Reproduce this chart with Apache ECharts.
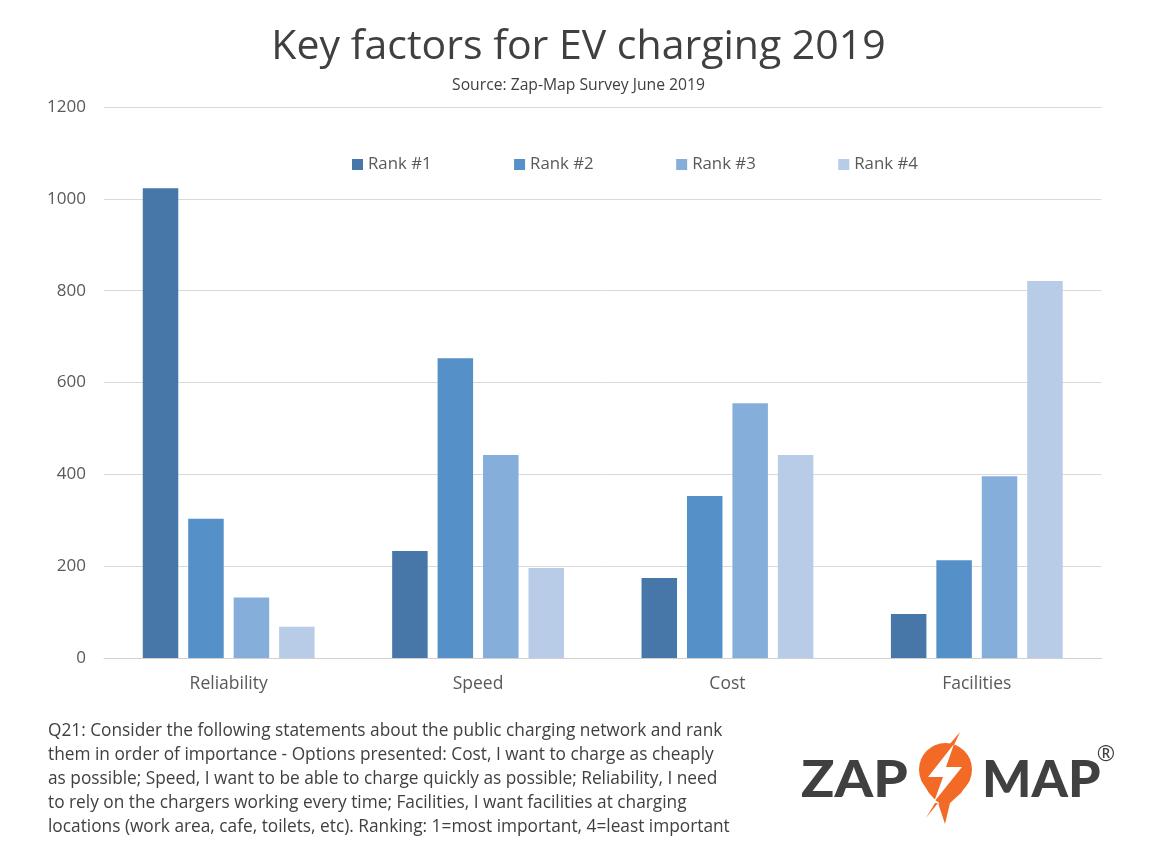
<!DOCTYPE html>
<html>
<head>
<meta charset="utf-8">
<style>
html,body{margin:0;padding:0;background:#fff}
#chart{width:1158px;height:856px}
</style>
<script src="https://cdn.jsdelivr.net/npm/echarts@6/dist/echarts.min.js"></script>
</head>
<body>
<div id="chart"></div>
<script>
var categories = ['Reliability', 'Speed', 'Cost', 'Facilities'];
var rank1 = [1023, 233, 174, 96];
var rank2 = [303, 653, 353, 213];
var rank3 = [132, 442, 555, 396];
var rank4 = [68, 196, 442, 821];
var seriesNames = ['Rank #1', 'Rank #2', 'Rank #3', 'Rank #4'];
var seriesColors = ['#4677a8', '#5591c8', '#85aedb', '#b8cce8'];
var footnote = [
    'Q21: Consider the following statements about the public charging network and rank',
    'them in order of importance - Options presented: Cost, I want to charge as cheaply',
    'as possible; Speed, I want to be able to charge quickly as possible; Reliability, I need',
    'to rely on the chargers working every time; Facilities, I want facilities at charging',
    'locations (work area, cafe, toilets, etc). Ranking: 1=most important, 4=least important'
];

var fontName = '"Open Sans", "Noto Sans", sans-serif';
var myChart = echarts.init(document.getElementById('chart'), null, {renderer: 'canvas'});

// footnote, one text per line
var graphics = footnote.map(function (line, i) {
    return {
        type: 'text', x: 48, y: 731 + i * 24,
        style: {text: line, font: '17.3px ' + fontName, fill: '#404040', textVerticalAlign: 'middle'}
    };
});

// logo
graphics.push(
    {type: 'text', x: 801, y: 780, scaleX: 1.06, style: {text: 'ZAP', font: '900 52px Lato', fill: '#404040', textVerticalAlign: 'middle'}},
    {type: 'text', x: 982, y: 780, style: {text: 'MAP', font: '900 52px Lato', fill: '#404040', textVerticalAlign: 'middle'}},
    {type: 'text', x: 1106, y: 755, style: {text: '®', font: '22px ' + fontName, fill: '#404040', textAlign: 'center', textVerticalAlign: 'middle'}},
    {type: 'circle', shape: {cx: 945.5, cy: 769.5, r: 26.5}, style: {fill: '#f26a25'}},
    {type: 'polygon', shape: {points: [[921, 780], [929, 793], [938, 803], [945, 824], [950, 803], [961, 793], [970, 780]]}, style: {fill: '#f26a25'}},
    {type: 'polygon', shape: {points: [[954, 744], [928, 777], [943, 777], [934, 802], [962, 767], [946, 767]]}, style: {fill: '#fff'}},
    {type: 'polygon', shape: {points: [[960, 732], [949, 745], [954, 745]]}, style: {fill: '#f26a25'}},
    {type: 'line', shape: {x1: 925, y1: 819, x2: 938, y2: 802}, style: {stroke: '#fff', lineWidth: 3}},
    {type: 'polygon', shape: {points: [[926, 818], [935, 803], [938, 803]]}, style: {fill: '#f26a25'}}
);

var option = {
    backgroundColor: '#fff',
    animation: false,
    textStyle: {fontFamily: fontName},
    title: {
        text: 'Key factors for EV charging 2019',
        subtext: 'Source: Zap-Map Survey June 2019',
        left: 573.5,
        top: 22,
        textAlign: 'center',
        itemGap: 10,
        textStyle: {fontSize: 41, fontWeight: 'normal', color: '#404040', fontFamily: fontName},
        subtextStyle: {fontSize: 15.7, color: '#404040', fontFamily: fontName}
    },
    legend: {
        left: 347,
        top: 151,
        icon: 'rect',
        itemWidth: 11,
        itemHeight: 11,
        itemGap: 82.5,
        data: seriesNames,
        textStyle: {fontSize: 16.8, color: '#595959', fontFamily: fontName}
    },
    grid: {left: 104, right: 56.5, top: 107, bottom: 198},
    xAxis: {
        type: 'category',
        data: categories,
        axisTick: {show: false},
        axisLine: {lineStyle: {color: '#d0d0d0'}},
        axisLabel: {fontSize: 17.5, color: '#595959', margin: 17}
    },
    yAxis: {
        type: 'value',
        min: 0,
        max: 1200,
        interval: 200,
        axisLine: {show: false},
        axisTick: {show: false},
        axisLabel: {fontSize: 17, color: '#595959', margin: 18, formatter: function (v) { return String(v); }, padding: [2, 0, 0, 0]},
        splitLine: {lineStyle: {color: '#d9d9d9'}}
    },
    graphic: graphics,
    series: [rank1, rank2, rank3, rank4].map(function (vals, i) {
        return {
            name: seriesNames[i],
            type: 'bar',
            data: vals,
            barWidth: 35.5,
            barGap: '28%',
            itemStyle: {color: seriesColors[i]}
        };
    })
};
myChart.setOption(option);
</script>
</body>
</html>
